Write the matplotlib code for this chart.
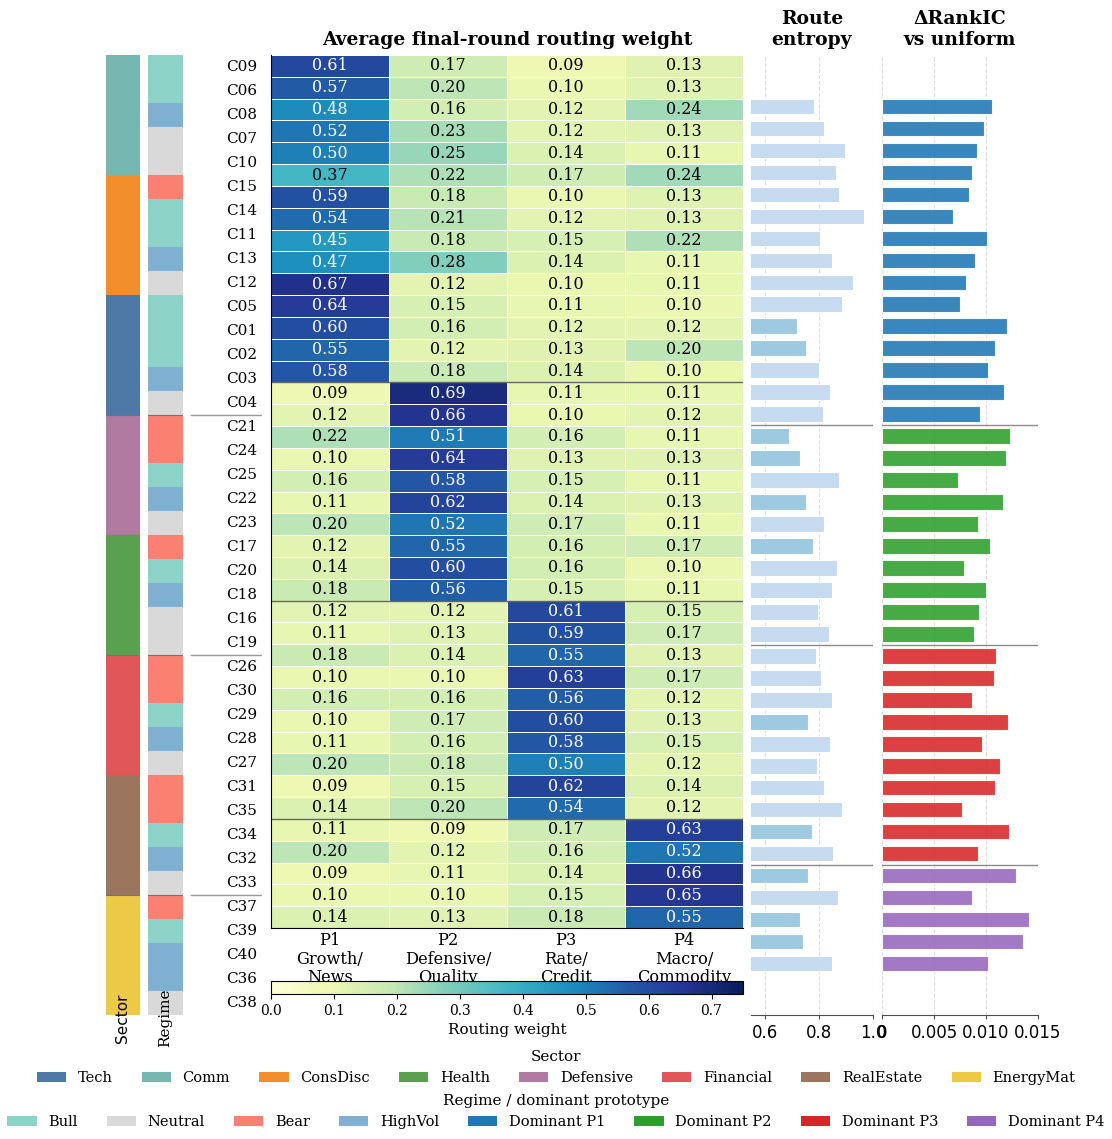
import numpy as np
import matplotlib
matplotlib.use('Agg')
import matplotlib.pyplot as plt
from matplotlib.colors import to_rgb
from matplotlib.patches import Patch

plt.rcParams['font.family'] = 'DejaVu Serif'

# ---- data ----
clusters = ['C09', 'C06', 'C08', 'C07', 'C10', 'C15', 'C14', 'C11', 'C13', 'C12',
            'C05', 'C01', 'C02', 'C03', 'C04', 'C21', 'C24', 'C25', 'C22', 'C23',
            'C17', 'C20', 'C18', 'C16', 'C19', 'C26', 'C30', 'C29', 'C28', 'C27',
            'C31', 'C35', 'C34', 'C32', 'C33', 'C37', 'C39', 'C40', 'C36', 'C38']

row_sector = (['Comm'] * 5 + ['ConsDisc'] * 5 + ['Tech'] * 5 + ['Defensive'] * 5 +
              ['Health'] * 5 + ['Financial'] * 5 + ['RealEstate'] * 5 + ['EnergyMat'] * 5)

row_regime = ['Bull', 'Bull', 'HighVol', 'Neutral', 'Neutral',
              'Bear', 'Bull', 'Bull', 'HighVol', 'Neutral',
              'Bull', 'Bull', 'Bull', 'HighVol', 'Neutral',
              'Bear', 'Bear', 'Bull', 'HighVol', 'Neutral',
              'Bear', 'Bull', 'HighVol', 'Neutral', 'Neutral',
              'Bear', 'Bear', 'Bull', 'HighVol', 'Neutral',
              'Bear', 'Bear', 'Bull', 'HighVol', 'Neutral',
              'Bear', 'Bull', 'HighVol', 'HighVol', 'Neutral']

proto_labels = ['P1\nGrowth/\nNews', 'P2\nDefensive/\nQuality',
                'P3\nRate/\nCredit', 'P4\nMacro/\nCommodity']

w_p1 = [0.61, 0.57, 0.48, 0.52, 0.50, 0.37, 0.59, 0.54, 0.45, 0.47,
        0.67, 0.64, 0.60, 0.55, 0.58, 0.09, 0.12, 0.22, 0.10, 0.16,
        0.11, 0.20, 0.12, 0.14, 0.18, 0.12, 0.11, 0.18, 0.10, 0.16,
        0.10, 0.11, 0.20, 0.09, 0.14, 0.11, 0.20, 0.09, 0.10, 0.14]
w_p2 = [0.17, 0.20, 0.16, 0.23, 0.25, 0.22, 0.18, 0.21, 0.18, 0.28,
        0.12, 0.15, 0.16, 0.12, 0.18, 0.69, 0.66, 0.51, 0.64, 0.58,
        0.62, 0.52, 0.55, 0.60, 0.56, 0.12, 0.13, 0.14, 0.10, 0.16,
        0.17, 0.16, 0.18, 0.15, 0.20, 0.09, 0.12, 0.11, 0.10, 0.13]
w_p3 = [0.09, 0.10, 0.12, 0.12, 0.14, 0.17, 0.10, 0.12, 0.15, 0.14,
        0.10, 0.11, 0.12, 0.13, 0.14, 0.11, 0.10, 0.16, 0.13, 0.15,
        0.14, 0.17, 0.16, 0.16, 0.15, 0.61, 0.59, 0.55, 0.63, 0.56,
        0.60, 0.58, 0.50, 0.62, 0.54, 0.17, 0.16, 0.14, 0.15, 0.18]
w_p4 = [0.13, 0.13, 0.24, 0.13, 0.11, 0.24, 0.13, 0.13, 0.22, 0.11,
        0.11, 0.10, 0.12, 0.20, 0.10, 0.11, 0.12, 0.11, 0.13, 0.11,
        0.13, 0.11, 0.17, 0.10, 0.11, 0.15, 0.17, 0.13, 0.17, 0.12,
        0.13, 0.15, 0.12, 0.14, 0.12, 0.63, 0.52, 0.66, 0.65, 0.55]

entropy = [0.783, 0.821, 0.896, 0.864, 0.873, 0.968, 0.805, 0.850, 0.927, 0.886,
           0.719, 0.752, 0.800, 0.843, 0.815, 0.692, 0.731, 0.874, 0.754, 0.820,
           0.779, 0.869, 0.849, 0.798, 0.837, 0.790, 0.809, 0.849, 0.759, 0.840,
           0.795, 0.820, 0.887, 0.774, 0.854, 0.759, 0.871, 0.729, 0.740, 0.849]

d_rankic = [0.01061, 0.00981, 0.00913, 0.00861, 0.00841, 0.00681, 0.01013, 0.00890, 0.00809, 0.00751,
            0.01199, 0.01090, 0.01022, 0.01170, 0.00942, 0.01228, 0.01190, 0.00732, 0.01161, 0.00919,
            0.01042, 0.00790, 0.01000, 0.00932, 0.00880, 0.01100, 0.01080, 0.00870, 0.01209, 0.00961,
            0.01138, 0.01090, 0.00771, 0.01219, 0.00919, 0.01293, 0.00861, 0.01409, 0.01351, 0.01022]

sector_colors = {'Tech': '#4e79a7', 'Comm': '#76b7b2', 'ConsDisc': '#f28e2b',
                 'Health': '#59a14f', 'Defensive': '#b07aa1', 'Financial': '#e15759',
                 'RealEstate': '#9c755f', 'EnergyMat': '#edc948'}
regime_colors = {'Bull': '#8dd3c7', 'Neutral': '#d9d9d9', 'Bear': '#fb8072', 'HighVol': '#80b1d3'}
proto_colors = ['#1f77b4', '#2ca02c', '#d62728', '#9467bd']

W_px, H_px = 1112, 1139


def rect(x0, y0, x1, y1):
    return [x0 / W_px, 1 - y1 / H_px, (x1 - x0) / W_px, (y1 - y0) / H_px]


weights = np.column_stack([w_p1, w_p2, w_p3, w_p4])
n = len(clusters)
breaks = [15, 25, 35]

fig = plt.figure(figsize=(11.12, 11.39), dpi=100)

# ---- heatmap ----
ax = fig.add_axes(rect(271, 55, 743, 928))
mesh = ax.pcolormesh(weights, cmap='YlGnBu', vmin=0, vmax=0.75,
                     edgecolors='white', linewidth=0.6)
ax.set_xlim(0, 4)
ax.set_ylim(n, 0)
for i in range(n):
    for j in range(4):
        v = weights[i, j]
        ax.text(j + 0.5, i + 0.5, f'{v:.2f}', ha='center', va='center',
                fontsize=11.5, color='white' if v > 0.4 else 'black')
for b in breaks:
    ax.axhline(b, color='0.4', lw=1)
ax.set_xticks(np.arange(4) + 0.5, proto_labels, fontsize=11.7, linespacing=1.12)
ax.tick_params(axis='x', length=0, pad=3)
ax.set_yticks([])
ax.spines['top'].set_visible(False)
ax.spines['right'].set_visible(False)
ax.set_title('Average final-round routing weight', fontweight='bold', fontsize=13.5, pad=7)

# ---- sector / regime strips ----
ax_sec = fig.add_axes(rect(106, 55, 140, 1015))
sec_rgb = np.array([to_rgb(sector_colors[s]) for s in row_sector])[:, None, :]
ax_sec.imshow(sec_rgb, aspect='auto', extent=(0, 1, n, 0), interpolation='nearest')
ax_sec.axis('off')
ax_sec.text(0.5, -3 / 960, 'Sector', rotation=90, ha='center', va='center',
            fontsize=11, family='DejaVu Sans', transform=ax_sec.transAxes)

ax_reg = fig.add_axes(rect(148, 55, 183, 1015))
reg_rgb = np.array([to_rgb(regime_colors[r]) for r in row_regime])[:, None, :]
ax_reg.imshow(reg_rgb, aspect='auto', extent=(0, 1, n, 0), interpolation='nearest')
ax_reg.axis('off')
ax_reg.text(0.5, -3 / 960, 'Regime', rotation=90, ha='center', va='center',
            fontsize=11, transform=ax_reg.transAxes)
for a in (ax_sec, ax_reg):
    for b in breaks:
        a.axhline(b, color='0.45', lw=0.8)

ax_lab = fig.add_axes(rect(190, 55, 262, 1015))
ax_lab.set_xlim(0, 1)
ax_lab.set_ylim(n, 0)
ax_lab.axis('off')
for i, c in enumerate(clusters):
    ax_lab.text(0.93, i + 0.5, c, ha='right', va='center', fontsize=11)
for b in breaks:
    ax_lab.axhline(b, xmin=0.01, xmax=1, color='0.6', lw=1)

# ---- route entropy ----
y = np.arange(n)
ax_e = fig.add_axes(rect(751, 55, 873, 1015))
ent_colors = ['#9ecae1' if e < 0.78 else '#c6dbef' for e in entropy]
ax_e.barh(y, entropy, height=0.7, color=ent_colors, edgecolor='white', linewidth=0.8)
ax_e.set_xlim(0.55, 1.0)
ax_e.invert_yaxis()
ax_e.set_xticks([0.6, 0.8, 1.0], ['0.6', '0.8', '1.0'], family='DejaVu Sans', fontsize=12)
ax_e.set_title('Route\nentropy', fontweight='bold', fontsize=13.5, pad=7)

# ---- delta rank IC ----
ax_r = fig.add_axes(rect(882, 55, 1038, 1015))
dom = weights.argmax(axis=1)
ax_r.barh(y, d_rankic, height=0.7, color=[proto_colors[k] for k in dom], alpha=0.88,
          edgecolor='white', linewidth=0.8)
ax_r.set_xlim(0, 0.015)
ax_r.invert_yaxis()
ax_r.set_xticks([0, 0.005, 0.01, 0.015], ['0', '0.005', '0.010', '0.015'],
                family='DejaVu Sans', fontsize=12)
ax_r.set_title('ΔRankIC\nvs uniform', fontweight='bold', fontsize=13.5, pad=7)

for a in (ax_e, ax_r):
    a.set_yticks([])
    for s in ('left', 'top', 'right'):
        a.spines[s].set_visible(False)
    a.spines['bottom'].set_color('0.3')
    a.grid(axis='x', ls='--', color='#dddddd', lw=0.8)
    a.set_axisbelow(True)
    a.tick_params(axis='x', length=3, color='0.3')
    for b in breaks:
        a.axhline(b - 0.5, color='0.55', lw=1)

# ---- colorbar ----
cax = fig.add_axes(rect(271, 981, 743, 994))
cb = fig.colorbar(mesh, cax=cax, orientation='horizontal')
cb.set_ticks(np.arange(0, 0.71, 0.1))
cb.ax.tick_params(labelsize=10)
cb.set_label('Routing weight', fontsize=11)
cb.outline.set_linewidth(0.8)

# ---- legends ----
sector_order = ['Tech', 'Comm', 'ConsDisc', 'Health', 'Defensive', 'Financial', 'RealEstate', 'EnergyMat']
h1 = [Patch(facecolor=sector_colors[s], label=s) for s in sector_order]
fig.legend(handles=h1, loc='upper center', bbox_to_anchor=(0.5, 1 - 1047 / H_px), ncol=8,
           frameon=False, title='Sector', fontsize=10.5, title_fontsize=11,
           handletextpad=0.8, columnspacing=2.0, borderaxespad=0, borderpad=0.2)

regime_order = ['Bull', 'Neutral', 'Bear', 'HighVol']
h2 = [Patch(facecolor=regime_colors[r], label=r) for r in regime_order]
h2 += [Patch(facecolor=proto_colors[k], label=f'Dominant P{k + 1}') for k in range(4)]
fig.legend(handles=h2, loc='upper center', bbox_to_anchor=(0.5, 1 - 1091 / H_px), ncol=8,
           frameon=False, title='Regime / dominant prototype', fontsize=10.5, title_fontsize=11,
           handletextpad=0.8, columnspacing=2.0, borderaxespad=0, borderpad=0.2)

fig.savefig('out.png', dpi=100)
